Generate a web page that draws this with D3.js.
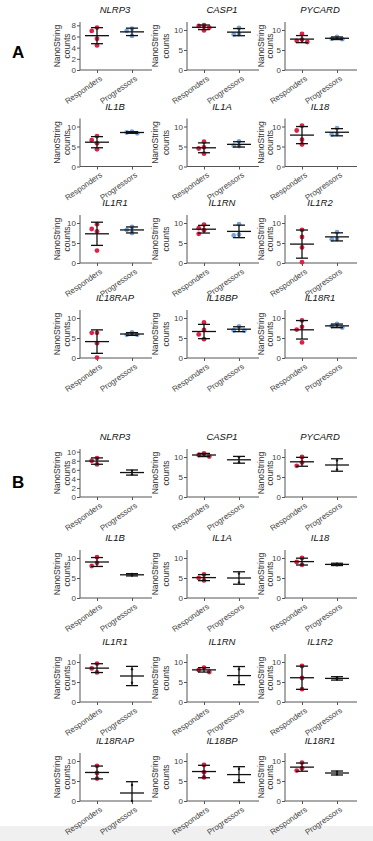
<!DOCTYPE html>
<meta charset="utf-8">
<title>NanoString counts</title>
<style>
body{ margin:0; background:white; }
svg text{ font-family: "Liberation Sans", Arial, sans-serif; fill:#333; }
</style>
<body>
<script src="https://cdn.jsdelivr.net/npm/d3@7"></script>
<script>

var width = 373, height = 841;

var genes = ["NLRP3","CASP1","PYCARD","IL1B","IL1A","IL18","IL1R1","IL1RN","IL1R2","IL18RAP","IL18BP","IL18R1"];
var groups = ["Responders","Progressors"];

// panel A, one list of points per gene
var respondersA = [
	[7.6, 7.0, 5.6, 4.4], [11.2, 11.0, 10.6, 9.9], [9.0, 7.6, 7.3, 7.0],
	[7.6, 6.6, 5.8, 4.3], [6.2, 4.8, 4.5, 3.2], [10.2, 9.0, 6.7, 5.5],
	[9.7, 8.5, 7.9, 3.1], [9.6, 8.7, 8.2, 7.3], [8.3, 6.5, 3.9, 0.2],
	[6.3, 6.3, 3.7, 0.1], [8.9, 7.0, 5.9, 4.7], [9.4, 7.8, 7.1, 3.9]
];
var progressorsA = [
	[7.4, 7.0, 6.1], [10.5, 9.0, 8.9], [8.3, 7.7, 7.8],
	[8.7, 8.3, 8.5], [6.3, 5.1, 5.2], [9.6, 8.1, 8.0],
	[9.0, 8.3, 7.5], [9.7, 7.1, 6.9], [7.7, 6.0, 5.9],
	[6.4, 5.8, 5.8], [7.9, 6.9, 6.8], [8.5, 8.0, 7.6]
];
var yMaxA = [8.6, 12, 12, 12, 12, 12, 12, 12, 12, 12, 12, 12];
var tickStepA = [2, 5, 5, 5, 5, 5, 5, 5, 5, 5, 5, 5];

// panel B (progressor points sit behind the black bars)
var respondersB = [
	[8.6, 8.0, 7.2], [10.9, 10.5, 10.1], [10.0, 8.6, 7.8],
	[10.2, 8.8, 8.0], [5.9, 5.0, 4.4], [10.0, 9.0, 8.3],
	[9.6, 8.4, 7.4], [8.6, 8.0, 7.5], [9.0, 6.0, 3.2],
	[8.8, 7.0, 5.6], [9.0, 7.2, 5.9], [9.6, 8.2, 7.6]
];
var progressorsB = [
	[5.8, 5.0], [9.9, 8.7], [9.1, 6.9],
	[6.0, 5.6], [6.1, 3.9], [8.6, 8.2],
	[8.2, 4.8], [8.2, 5.0], [6.2, 5.6],
	[4.0, 0.0], [8.0, 5.2], [7.35, 6.65]
];
var yMaxB = [10.6, 12, 12, 12, 12, 12, 12, 12, 12, 12, 12, 12];
var tickStepB = [2, 5, 5, 5, 5, 5, 5, 5, 5, 5, 5, 5];

// layout
var colX = [80, 187, 285];
var labelDx = [[-20, -10], [-29, -18], [-21, -12]];
var plotW = 72, plotH = 48;
var rowBaseA = [70, 166.5, 263, 358];
var rowBaseB = [497, 598, 702, 801];
var red = "#db2346", blue = "#74a3d9", dark = "#222";

var svg = d3.select("body")
	.append("svg")
	.attr("width", width)
	.attr("height", height);

svg.append("rect").attr("x", 0).attr("y", 826).attr("width", width).attr("height", 15).attr("fill", "#f0f0f0");

svg.append("text").attr("x", 12).attr("y", 58)
	.style("font-size", "17px").style("font-weight", "bold").style("fill", "#000").text("A");
svg.append("text").attr("x", 12).attr("y", 488)
	.style("font-size", "17px").style("font-weight", "bold").style("fill", "#000").text("B");

function dodge(values, y, r){
	// prism-like horizontal spreading of points that overlap
	var placed = [];
	return values.map(function(v){
		var py = y(v);
		var options = [0, -1, 1, -2, 2];
		for (var k = 0; k < options.length; k++){
			var dx = options[k] * r * 2.2;
			var clash = placed.some(function(p){ return Math.hypot(p[0] - dx, p[1] - py) < r * 2; });
			if (!clash){ placed.push([dx, py]); return [dx, py]; }
		}
		placed.push([0, py]);
		return [0, py];
	});
}

function drawPanel(resp, prog, yMax, steps, rowBase, progColor, progR){
	genes.forEach(function(gene, i){
		var col = i % 3, row = Math.floor(i / 3);
		var x0 = colX[col], base = rowBase[row];

		var g = svg.append("g").attr("transform", "translate(" + x0 + "," + (base - plotH) + ")");

		var y = d3.scaleLinear().domain([0, yMax[i]]).range([plotH, 0]);
		var x = d3.scalePoint().domain(groups).range([17, 52]);

		var yAxis = d3.axisLeft(y)
			.tickValues(d3.range(0, yMax[i] + 0.01, steps[i]))
			.tickSize(3).tickPadding(1);
		var ya = g.append("g").call(yAxis);
		ya.select(".domain").attr("d", "M0," + plotH + "V0").attr("stroke", "#555");
		ya.selectAll(".tick line").attr("stroke", "#555");
		ya.selectAll("text").style("font-size", "8px").style("fill", "#444").attr("font-family", null);

		var xAxis = d3.axisBottom(x).tickSize(3).tickFormat("");
		var xa = g.append("g").attr("transform", "translate(0," + plotH + ")").call(xAxis);
		xa.select(".domain").attr("d", "M0,0H" + plotW).attr("stroke", "#555");
		xa.selectAll(".tick line").attr("stroke", "#555");

		xa.selectAll(".tick").append("text")
			.attr("transform", "translate(2,5) rotate(-35)")
			.attr("text-anchor", "end")
			.attr("dy", "0.7em")
			.style("font-size", "8px")
			.style("fill", "#444")
			.text(function(d){ return d; });

		g.append("text")
			.attr("x", plotW / 2 - 1).attr("y", -9)
			.attr("text-anchor", "middle")
			.style("font-size", "9.5px").style("font-style", "italic")
			.style("fill", "#111")
			.text(gene);

		var ylab = g.append("text")
			.attr("transform", "translate(" + labelDx[col][0] + "," + (plotH / 2) + ") rotate(-90)")
			.attr("text-anchor", "middle")
			.style("font-size", "8.5px")
			.style("fill", "#333");
		ylab.append("tspan").attr("x", 0).attr("y", 0).text("NanoString");
		ylab.append("tspan").attr("x", 0).attr("y", labelDx[col][1] - labelDx[col][0]).text("counts");

		[resp[i], prog[i]].forEach(function(vals, j){
			var cx = x(groups[j]);
			var color = j == 0 ? red : progColor;
			var r = j == 0 ? 2.4 : progR;
			var pts = j == 0 || progR > 2 ? dodge(vals.slice().sort(d3.descending), y, r)
				: vals.map(function(v){ return [0, y(v)]; });
			g.selectAll(null).data(pts).enter().append("circle")
				.attr("cx", function(d){ return cx + d[0]; })
				.attr("cy", function(d){ return d[1]; })
				.attr("r", r)
				.attr("fill", color);

			var m = d3.mean(vals), s = d3.deviation(vals);
			var bars = g.append("g").attr("stroke", "#111").attr("stroke-width", 1.3).attr("fill", "none");
			bars.append("line").attr("x1", cx - 12).attr("x2", cx + 12).attr("y1", y(m)).attr("y2", y(m));
			bars.append("line").attr("x1", cx).attr("x2", cx).attr("y1", y(m + s)).attr("y2", y(Math.max(0, m - s)));
			bars.append("line").attr("x1", cx - 6).attr("x2", cx + 6).attr("y1", y(m + s)).attr("y2", y(m + s));
			if (m - s >= 0)
				bars.append("line").attr("x1", cx - 6).attr("x2", cx + 6).attr("y1", y(m - s)).attr("y2", y(m - s));
		});
	});
}

drawPanel(respondersA, progressorsA, yMaxA, tickStepA, rowBaseA, blue, 2.4);
drawPanel(respondersB, progressorsB, yMaxB, tickStepB, rowBaseB, dark, 1.2);

</script>
</body>
